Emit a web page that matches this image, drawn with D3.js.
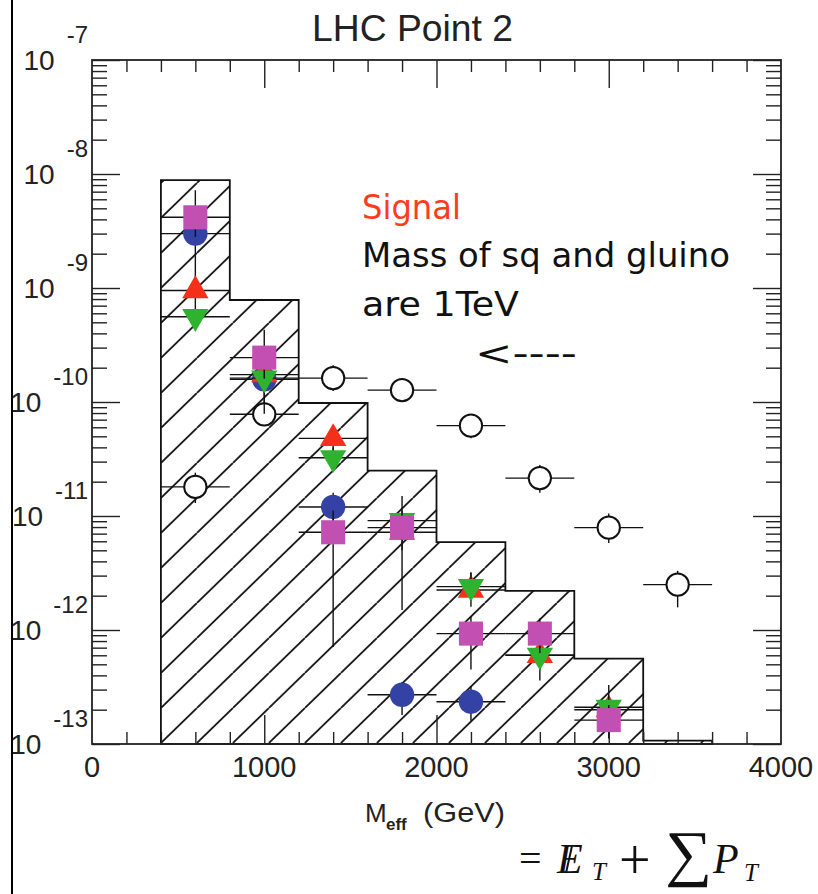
<!DOCTYPE html>
<html>
<head>
<meta charset="utf-8">
<script src="https://cdn.jsdelivr.net/npm/d3@7"></script>
<style>
  body { margin: 0; background: #fff; }
</style>
</head>
<body>
<div id="chart"></div>
<script>
// histogram (hatched), bin edges in GeV
const histEdges = [400, 800, 1200, 1600, 2000, 2400, 2800, 3200, 3600];
const histValues = [8.85e-9, 7.85e-10, 9.8e-11, 2.5e-11, 5.9e-12, 2.2e-12, 5.6e-13, 1.07e-13];

// open circles
const bgMass = [600, 1000, 1400, 1800, 2200, 2600, 3000, 3400];
const bgValues = [1.8e-11, 7.8e-11, 1.62e-10, 1.27e-10, 6.2e-11, 2.15e-11, 7.9e-12, 2.5e-12];
const bgErrLo = [1.3e-11, 6.3e-11, 1.25e-10, 1.0e-10, 4.8e-11, 1.6e-11, 5.8e-12, 1.58e-12];
const bgErrHi = [2.4e-11, 1.05e-10, 2.1e-10, 1.6e-10, 7.8e-11, 2.8e-11, 1.05e-11, 3.3e-12];

// blue circles
const blueMass = [600, 1000, 1400, 1800, 2200];
const blueValues = [3.0e-9, 1.58e-10, 1.2e-11, 2.7e-13, 2.35e-13];
const blueErrLo = [8.3e-10, 7.9e-11, 8.9e-12, 1.8e-13, 1.6e-13];
const blueErrHi = [5.0e-9, 2.0e-10, 1.6e-11, 3.5e-13, 3.2e-13];

// red up-triangles
const redMass = [600, 1000, 1400, 1800, 2200, 2600, 3000];
const redValues = [9.5e-10, 1.74e-10, 4.8e-11, 7.2e-12, 2.24e-12, 6.0e-13, 2.0e-13];
const redErrLo = [7.1e-10, 1.26e-10, 3.5e-11, 5.0e-12, 1.6e-12, 4.5e-13, 1.5e-13];
const redErrHi = [1.26e-9, 2.2e-10, 6.3e-11, 1.0e-11, 3.2e-12, 7.9e-13, 2.6e-13];

// green down-triangles
const greenMass = [600, 1000, 1400, 1800, 2200, 2600, 3000];
const greenValues = [5.6e-10, 1.62e-10, 3.24e-11, 9.1e-12, 2.4e-12, 6.0e-13, 2.1e-13];
const greenErrLo = [4.5e-10, 1.12e-10, 2.5e-11, 7.9e-12, 1.8e-12, 3.6e-13, 1.4e-13];
const greenErrHi = [7.1e-10, 2.0e-10, 4.0e-11, 1.5e-11, 3.2e-12, 7.9e-13, 3.3e-13];

// magenta squares
const pinkMass = [600, 1000, 1400, 1800, 2200, 2600, 3000];
const pinkValues = [4.17e-9, 2.45e-10, 7.2e-12, 7.9e-12, 9.3e-13, 9.3e-13, 1.62e-13];
const pinkErrLo = [2.8e-9, 1.6e-10, 7.1e-13, 1.5e-12, 4.5e-13, 6.3e-13, 1.12e-13];
const pinkErrHi = [7.2e-9, 4.3e-10, 1.12e-11, 1.12e-11, 1.32e-12, 1.26e-12, 2.2e-13];

const binHalfWidth = 200;
const xTickLabels = [0, 1000, 2000, 3000, 4000];
const yDecades = [1e-13, 1e-12, 1e-11, 1e-10, 1e-9, 1e-8, 1e-7];

// plot frame in page pixels
const plot = { left: 92, right: 781, top: 60, bottom: 744 };

const svg = d3.select('#chart')
    .append('svg')
    .attr('width', 818)
    .attr('height', 894)
    .style('font-family', 'Liberation Sans, Arial, sans-serif');

const x = d3.scaleLinear().domain([0, 4000]).range([plot.left, plot.right]);
const y = d3.scaleLog().domain([1e-13, 1e-7]).range([plot.bottom, plot.top]);

// hatch pattern
svg.append('defs').append('pattern')
    .attr('id', 'hatch')
    .attr('patternUnits', 'userSpaceOnUse')
    .attr('x', x(400)).attr('y', 708)
    .attr('width', 36).attr('height', 35)
    .append('path')
    .attr('d', 'M-36,35 L0,0 M0,35 L36,0 M36,35 L72,0')
    .attr('stroke', '#111')
    .attr('stroke-width', 1.8);

// histogram outline
let histPath = `M${x(histEdges[0])},${y(1e-13)}`;
histValues.forEach((v, i) => {
    histPath += ` L${x(histEdges[i])},${y(v)} L${x(histEdges[i + 1])},${y(v)}`;
});
histPath += ` L${x(histEdges[histEdges.length - 1])},${y(1e-13)} Z`;

svg.append('path')
    .attr('d', histPath)
    .attr('fill', 'url(#hatch)')
    .attr('stroke', '#111')
    .attr('stroke-width', 1.8);

// ticks
const minorY = y.ticks().filter(d => Math.abs(Math.log10(d) - Math.round(Math.log10(d))) > 1e-6);
const minorX = d3.range(0, 4001, 200).filter(d => d % 1000 !== 0);
const majorX = [1000, 2000, 3000];

function ticks(axis, values, size, tx, ty) {
    const g = svg.append('g')
        .attr('transform', `translate(${tx},${ty})`)
        .call(axis.tickValues(values).tickSize(size).tickFormat(''));
    g.select('.domain').remove();
    g.selectAll('line').attr('stroke', '#222').attr('stroke-width', 1.4);
}

ticks(d3.axisRight(y), minorY, 15, plot.left, 0);
ticks(d3.axisRight(y), yDecades, 28, plot.left, 0);
ticks(d3.axisLeft(y), minorY, 15, plot.right, 0);
ticks(d3.axisLeft(y), yDecades, 28, plot.right, 0);
ticks(d3.axisBottom(x), minorX, 12, 0, plot.top);
ticks(d3.axisBottom(x), majorX, 28, 0, plot.top);
ticks(d3.axisTop(x), minorX, 12, 0, plot.bottom);
ticks(d3.axisTop(x), majorX, 29, 0, plot.bottom);

svg.append('rect')
    .attr('x', plot.left).attr('y', plot.top)
    .attr('width', plot.right - plot.left)
    .attr('height', plot.bottom - plot.top)
    .attr('fill', 'none')
    .attr('stroke', '#222')
    .attr('stroke-width', 1.8);

// data points with error bars
const series = [
    { mass: bgMass, values: bgValues, lo: bgErrLo, hi: bgErrHi, symbol: d3.symbolCircle, size: 390, fill: '#fff', stroke: '#111', rotate: 0 },
    { mass: blueMass, values: blueValues, lo: blueErrLo, hi: blueErrHi, symbol: d3.symbolCircle, size: 470, fill: '#3442a6', stroke: 'none', rotate: 0 },
    { mass: redMass, values: redValues, lo: redErrLo, hi: redErrHi, symbol: d3.symbolTriangle, size: 300, fill: '#f5301a', stroke: 'none', rotate: 0 },
    { mass: greenMass, values: greenValues, lo: greenErrLo, hi: greenErrHi, symbol: d3.symbolTriangle, size: 300, fill: '#2fb32f', stroke: 'none', rotate: 180 },
    { mass: pinkMass, values: pinkValues, lo: pinkErrLo, hi: pinkErrHi, symbol: d3.symbolSquare, size: 580, fill: '#c24fb2', stroke: 'none', rotate: 0 }
];

series.forEach(s => {
    const pts = s.mass.map((m, i) => ({ m, v: s.values[i], lo: s.lo[i], hi: s.hi[i] }));
    const g = svg.append('g');

    g.selectAll('.hbar')
        .data(pts)
        .enter()
        .append('line')
        .attr('x1', d => x(d.m - binHalfWidth))
        .attr('x2', d => x(d.m + binHalfWidth))
        .attr('y1', d => y(d.v))
        .attr('y2', d => y(d.v))
        .attr('stroke', '#111')
        .attr('stroke-width', 1.4);

    g.selectAll('.vbar')
        .data(pts)
        .enter()
        .append('line')
        .attr('x1', d => x(d.m))
        .attr('x2', d => x(d.m))
        .attr('y1', d => y(d.lo))
        .attr('y2', d => y(d.hi))
        .attr('stroke', '#111')
        .attr('stroke-width', 1.4);

    g.selectAll('.marker')
        .data(pts)
        .enter()
        .append('path')
        .attr('d', d3.symbol().type(s.symbol).size(s.size))
        .attr('transform', d => `translate(${x(d.m)},${y(d.v)}) rotate(${s.rotate})`)
        .attr('fill', s.fill)
        .attr('stroke', s.stroke)
        .attr('stroke-width', 2);
});

// x tick labels
svg.selectAll('.xlabel')
    .data(xTickLabels)
    .enter()
    .append('text')
    .attr('x', d => x(d))
    .attr('y', 777)
    .attr('text-anchor', 'middle')
    .attr('font-size', 29)
    .attr('fill', '#222')
    .text(d => d);

// y tick labels: 10 with exponent raised
yDecades.forEach(d => {
    const ty = y(d);
    const exp = svg.append('text')
        .attr('x', 88)
        .attr('y', ty - 17)
        .attr('text-anchor', 'end')
        .attr('font-size', 24)
        .attr('fill', '#222')
        .text(Math.round(Math.log10(d)));
    const w = exp.node().getComputedTextLength();
    svg.append('text')
        .attr('x', 88 - w - 12)
        .attr('y', ty + 10)
        .attr('text-anchor', 'end')
        .attr('font-size', 28)
        .attr('fill', '#222')
        .text('10');
});

// left page border
svg.append('line')
    .attr('x1', 12).attr('x2', 12)
    .attr('y1', 0).attr('y2', 894)
    .attr('stroke', '#000')
    .attr('stroke-width', 2);

// title
svg.append('text')
    .attr('x', 312).attr('y', 41)
    .attr('font-size', 36)
    .attr('textLength', 201)
    .attr('lengthAdjust', 'spacingAndGlyphs')
    .attr('fill', '#222')
    .text('LHC Point 2');

// annotation
const note = svg.append('g').style('font-family', 'DejaVu Sans, sans-serif').attr('font-size', 33);
note.append('text').attr('x', 362).attr('y', 219).attr('textLength', 99).attr('lengthAdjust', 'spacingAndGlyphs').attr('fill', '#ff3b1e').text('Signal');
note.append('text').attr('x', 362).attr('y', 267).attr('textLength', 368).attr('lengthAdjust', 'spacingAndGlyphs').attr('fill', '#111').text('Mass of sq and gluino');
note.append('text').attr('x', 362).attr('y', 316).attr('textLength', 157).attr('lengthAdjust', 'spacingAndGlyphs').attr('fill', '#111').text('are 1TeV');
note.append('text').attr('x', 475).attr('y', 365).attr('textLength', 102).attr('lengthAdjust', 'spacingAndGlyphs').attr('fill', '#111').text('<----');

// x axis title
svg.append('text').attr('x', 365).attr('y', 822).attr('font-size', 26).attr('fill', '#222').text('M');
svg.append('text').attr('x', 386).attr('y', 830).attr('font-size', 17).attr('font-weight', 'bold').attr('fill', '#222').text('eff');
svg.append('text').attr('x', 423).attr('y', 822).attr('font-size', 27).attr('textLength', 82).attr('lengthAdjust', 'spacingAndGlyphs').attr('fill', '#222').text('(GeV)');

// formula  = Et(miss) + sum Pt
const f = svg.append('g').style('font-family', 'Liberation Serif, Times New Roman, serif').attr('fill', '#111');
f.append('text').attr('x', 519).attr('y', 872).attr('font-size', 40).text('=');
f.append('text').attr('x', 557).attr('y', 873).attr('font-size', 42).attr('font-style', 'italic').text('E');
f.append('line').attr('x1', 572).attr('y1', 846).attr('x2', 566).attr('y2', 873).attr('stroke', '#111').attr('stroke-width', 2);
f.append('text').attr('x', 592).attr('y', 880).attr('font-size', 25).attr('font-style', 'italic').text('T');
f.append('text').attr('x', 619).attr('y', 879).attr('font-size', 56).text('+');
f.append('text').attr('x', 665).attr('y', 874).attr('font-size', 62).attr('textLength', 47).attr('lengthAdjust', 'spacingAndGlyphs').text('∑');
f.append('text').attr('x', 713).attr('y', 873).attr('font-size', 42).attr('font-style', 'italic').text('P');
f.append('text').attr('x', 744).attr('y', 881).attr('font-size', 25).attr('font-style', 'italic').text('T');
</script>
</body>
</html>
